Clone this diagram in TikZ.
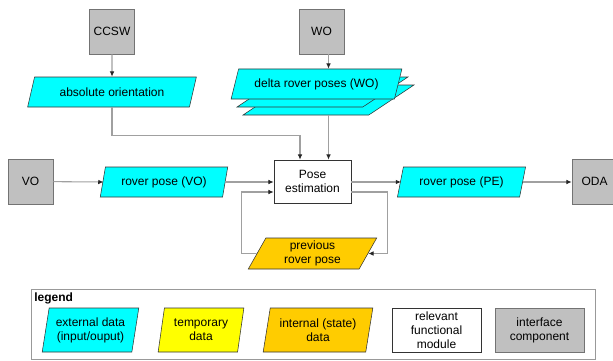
\documentclass[tikz,border=0pt]{standalone}
\usepackage{fontspec}
\setmainfont{Liberation Sans}
\usetikzlibrary{shapes.geometric,arrows.meta,calc}

\definecolor{extdata}{HTML}{00FFFF}
\definecolor{tmpdata}{HTML}{FFFF00}
\definecolor{intdata}{HTML}{FFCC00}
\definecolor{iface}{HTML}{C0C0C0}
\definecolor{edge}{HTML}{333333}
\definecolor{wire}{HTML}{A0A0A0}

\def\u{0.75pt}

\tikzset{
  para/.style n args={4}{% width, height, slant angle, fill
    trapezium, trapezium stretches=true,
    trapezium left angle=#3, trapezium right angle=180-#3,
    minimum width=#1*\u, minimum height=#2*\u,
    inner sep=0pt, draw=edge, fill=#4, align=center},
  iface/.style={draw=gray!90!black, fill=iface, minimum width=45*\u,
    minimum height=45*\u, inner sep=0pt},
  module/.style={draw=edge, fill=white, align=center, inner sep=0pt},
  wirearrow/.style={draw=wire, line width=0.8pt,
    -{Latex[length=4pt,width=3.5pt,color=black!85]}},
}

\begin{document}
\begin{tikzpicture}[x=\u, y=-\u, font=\fontsize{9pt}{10.5pt}\selectfont]
\useasboundingbox (0,0) rectangle (613,360);

% interface components
\node[iface] (ccsw) at (112,31.5) {CCSW};
\node[iface] (wo) at (321.5,31.5) {WO};
\node[iface] (vo) at (30.5,181.5) {VO};
\node[iface, minimum width=45*\u] (oda) at (594.5,181.5) {ODA};

% data items
\node[para={170}{30}{62}{extdata}] (abs) at (112,92) {absolute orientation};
\node[para={171}{30}{62}{extdata}] (d3) at (328.5,100) {\phantom{x}};
\node[para={171}{30}{62}{extdata}] (d2) at (322.5,92) {\phantom{x}};
\node[para={171}{30}{62}{extdata}] (d1) at (316.5,84) {delta rover poses (WO)};
\node[para={128}{30}{71.5}{extdata}] (rvo) at (164,182) {rover pose (VO)};
\node[para={129}{30}{69}{extdata}] (rpe) at (461.5,182) {rover pose (PE)};
\node[para={129}{31}{67}{intdata}] (prev) at (312.5,253.5) {previous\\rover pose};

% functional module
\node[module, minimum width=77*\u, minimum height=43*\u] (pose) at (312.5,181.5) {Pose\\estimation};

% connectors
\draw[wirearrow] (ccsw) -- (abs);
\draw[wirearrow] (wo.south -| d3.south) -- (d3.south |- d1.north);
\draw[wirearrow] (abs.south) -- ++(0,28) -| ($(pose.north)+(-12.5,0)$);
\draw[wirearrow] (d3.south) -- (d3.south |- pose.north);
\draw[wirearrow] (vo) -- ($(rvo.west)+(1,0)$);
\draw[wirearrow] (rvo.east) -- (rvo.east -| pose.west);
\draw[wirearrow] (prev.west) -- ++(-15,0) |- ($(pose.west)+(0,10.5)$);
\draw[wirearrow] ($(pose.east)+(0,10.5)$) -- ++(36,0) |- (prev.east);
\draw[wirearrow] (pose.east |- rpe.east) -- ($(rpe.west)+(1,0)$);
\draw[wirearrow] (rpe.east) -- (rpe.east -| oda.west);

% legend
\node[draw=gray!80, fill=white, minimum width=564*\u, minimum height=70*\u, inner sep=0pt] (legend) at (313,324) {};
\node[font=\fontsize{9pt}{10.5pt}\selectfont\bfseries, anchor=north west, inner sep=0pt] (legendtitle) at (34,293) {legend};
\node[para={97}{44}{77}{extdata}] (lext) at (90.5,330) {external data\\(input/ouput)};
\node[para={86}{44}{78}{tmpdata}] (ltmp) at (201,330) {temporary\\data};
\node[para={110}{44}{76}{intdata}] (lint) at (318,330) {internal (state)\\data};
\node[module, minimum width=89*\u, minimum height=44*\u] (lmod) at (436.5,330) {relevant\\functional\\module};
\node[iface, minimum width=89*\u, minimum height=44*\u, align=center] (lif) at (539.5,330) {interface\\component};
\end{tikzpicture}
\end{document}
